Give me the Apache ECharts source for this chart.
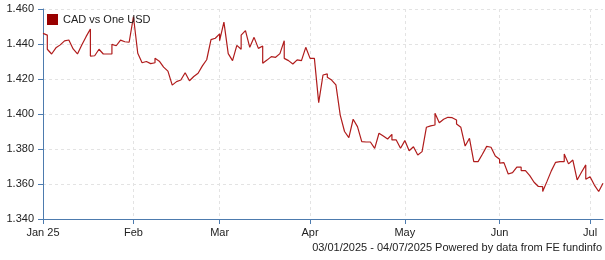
<!DOCTYPE html>
<html>
<head>
<meta charset="utf-8">
<script src="https://cdn.jsdelivr.net/npm/echarts@6/dist/echarts.min.js"></script>
<style>
html,body{margin:0;padding:0;background:#fff;}
#chart{width:605px;height:260px;}
</style>
</head>
<body>
<div id="chart"></div>
<script>
// Trading days (weekdays) from 03/01/2025 to 04/07/2025
const startDate = [2025, 0, 3];
const endDate = [2025, 6, 4];
const monthNames = ['Jan','Feb','Mar','Apr','May','Jun','Jul','Aug','Sep','Oct','Nov','Dec'];
const seriesName = 'CAD vs One USD';
const yTicks = [1.340, 1.360, 1.380, 1.400, 1.420, 1.440, 1.460];
const footerText = '03/01/2025 - 04/07/2025 Powered by data from FE fundinfo';

function buildWeekdays() {
  const out = [];
  const d = new Date(Date.UTC(startDate[0], startDate[1], startDate[2]));
  const e = new Date(Date.UTC(endDate[0], endDate[1], endDate[2]));
  while (d <= e) {
    const wd = d.getUTCDay();
    if (wd !== 0 && wd !== 6) out.push(d.toISOString().slice(0, 10));
    d.setUTCDate(d.getUTCDate() + 1);
  }
  return out;
}
const dates = buildWeekdays();

// Daily values (one per weekday)
const values = [
  1.4461, 1.4370, 1.4343, 1.4378, 1.4395, 1.4418, 1.4423, 1.4372, 1.4343, 1.4394,
  1.4442, 1.4331, 1.4333, 1.4370, 1.4343, 1.4343, 1.4398, 1.4390, 1.4422, 1.4413,
  1.4410, 1.4556, 1.4347, 1.4293, 1.4300, 1.4288, 1.4318, 1.4302, 1.4268, 1.4245,
  1.4165, 1.4185, 1.4194, 1.4236, 1.4190, 1.4214, 1.4223, 1.4275, 1.4310, 1.4425,
  1.4433, 1.4419, 1.4525, 1.4345, 1.4305, 1.4392, 1.4451, 1.4476, 1.4381, 1.4438,
  1.4375, 1.4290, 1.4308, 1.4328, 1.4324, 1.4345, 1.4318, 1.4305, 1.4286, 1.4309,
  1.4305, 1.4381, 1.4318, 1.4318, 1.4065, 1.4223, 1.4210, 1.4194, 1.4166, 1.3994,
  1.3900, 1.3865, 1.3970, 1.3928, 1.3842, 1.3840, 1.3840, 1.3804, 1.3890, 1.3874,
  1.3857, 1.3852, 1.3852, 1.3804, 1.3848, 1.3790, 1.3813, 1.3766, 1.3785, 1.3924,
  1.3932, 1.4004, 1.3950, 1.3970, 1.3981, 1.3979, 1.3943, 1.3924, 1.3817, 1.3861,
  1.3728, 1.3728, 1.3770, 1.3815, 1.3810, 1.3760, 1.3719, 1.3722, 1.3657, 1.3665,
  1.3696, 1.3677, 1.3677, 1.3648, 1.3610, 1.3586, 1.3557, 1.3615, 1.3675, 1.3724,
  1.3728, 1.3772, 1.3715, 1.3737, 1.3623, 1.3667, 1.3627, 1.3642, 1.3594, 1.3557,
  1.3604
];

// Weekend quotes, drawn at the following Monday's position
const weekendDates = [
  '2025-01-06','2025-01-20','2025-01-27','2025-02-10','2025-02-24','2025-03-03',
  '2025-03-10','2025-03-17','2025-03-24','2025-04-07','2025-04-28','2025-05-12',
  '2025-05-19','2025-06-02','2025-06-09','2025-06-16','2025-06-23','2025-06-30'
];
const weekendValues = [
  1.4451, 1.4486, 1.4343, 1.4293, 1.4233, 1.4458,
  1.4370, 1.4389, 1.4419, 1.4229, 1.3884, 1.3937,
  1.3966, 1.3741, 1.3696, 1.3585, 1.3728, 1.3709
];

const lineData = [];
dates.forEach(function (d, i) {
  const w = weekendDates.indexOf(d);
  if (w >= 0) lineData.push([d, weekendValues[w]]);
  lineData.push([d, values[i]]);
});

function isMonthStart(index) {
  if (index === 0) return true;
  return dates[index].slice(5, 7) !== dates[index - 1].slice(5, 7);
}
function monthLabel(value, index) {
  const m = parseInt(value.slice(5, 7), 10) - 1;
  return index === 0 ? monthNames[m] + ' ' + value.slice(2, 4) : monthNames[m];
}

const FONT = '"Liberation Sans", Arial, sans-serif';
const axisBlue = '#4d7bae';

const chart = echarts.init(document.getElementById('chart'), null, {renderer: 'canvas'});
chart.setOption({
  animation: false,
  backgroundColor: '#ffffff',
  grid: {left: 43, right: 2, top: 9, bottom: 41, containLabel: false},
  legend: {
    left: 42, top: 9,
    icon: 'rect', itemWidth: 11, itemHeight: 11, itemGap: 10,
    textStyle: {fontFamily: FONT, fontSize: 11, color: '#222'},
    data: [{name: seriesName, itemStyle: {color: '#990000'}}]
  },
  xAxis: {
    type: 'category',
    data: dates,
    boundaryGap: false,
    axisLine: {lineStyle: {color: axisBlue, width: 1}},
    axisTick: {show: true, interval: isMonthStart, length: 5, lineStyle: {color: axisBlue}},
    axisLabel: {
      interval: isMonthStart, formatter: monthLabel, margin: 8,
      fontFamily: FONT, fontSize: 11, color: '#222', hideOverlap: false
    },
    splitLine: {show: true, interval: isMonthStart, lineStyle: {color: '#e3e3e3', type: [3, 3]}}
  },
  yAxis: {
    type: 'value',
    min: yTicks[0], max: yTicks[yTicks.length - 1], interval: 0.02,
    axisLine: {show: true, lineStyle: {color: axisBlue, width: 1}},
    axisTick: {show: true, length: 5, lineStyle: {color: axisBlue}},
    axisLabel: {
      margin: 9, fontFamily: FONT, fontSize: 11, color: '#222',
      formatter: function (v) { return v.toFixed(3); }
    },
    splitLine: {show: true, lineStyle: {color: '#e3e3e3', type: [3, 3]}}
  },
  series: [{
    name: seriesName,
    type: 'line',
    data: lineData,
    showSymbol: false,
    symbol: 'none',
    itemStyle: {color: '#990000'},
    lineStyle: {color: '#b01c1c', width: 1.2},
    emphasis: {disabled: true}
  }],
  graphic: [{
    type: 'text',
    right: 3, top: 242,
    style: {text: footerText, font: '11px ' + FONT, fill: '#222'}
  }]
});
</script>
</body>
</html>
